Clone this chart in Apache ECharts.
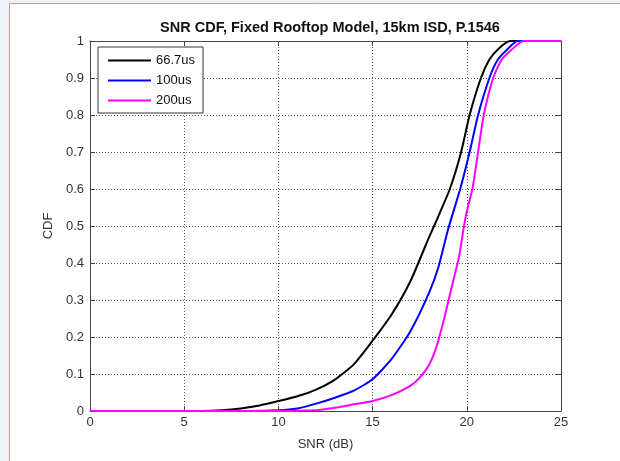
<!DOCTYPE html>
<html>
<head>
<meta charset="utf-8">
<script src="https://cdn.jsdelivr.net/npm/echarts@6/dist/echarts.min.js"></script>
<style>
html,body{margin:0;padding:0;background:#eef3fa;}
#c{width:620px;height:461px;}
</style>
</head>
<body>
<div id="c"></div>
<script>
const title = 'SNR CDF, Fixed Rooftop Model, 15km ISD, P.1546';
const xTicks = [0, 5, 10, 15, 20, 25];
const yTicks = [0, 0.1, 0.2, 0.3, 0.4, 0.5, 0.6, 0.7, 0.8, 0.9, 1];
const seriesNames = ['66.7us', '100us', '200us'];
const cdf667 = [[0,0],[6,0],[7,0.002],[8,0.007],[9,0.015],[10,0.027],[11,0.04],[12,0.058],[13,0.085],[14,0.126],[15,0.19],[16,0.26],[17,0.35],[18,0.47],[18.4,0.516],[19.1,0.6],[19.7,0.7],[20.15,0.8],[20.75,0.9],[21.2,0.95],[21.7,0.98],[22.3,1],[25,1]];
const cdf100 = [[0,0],[8.5,0],[10,0.002],[11,0.007],[12,0.02],[13,0.036],[14,0.055],[15,0.086],[16,0.14],[17,0.215],[18,0.32],[18.5,0.39],[19,0.49],[19.65,0.6],[20.15,0.7],[20.6,0.8],[21.2,0.9],[21.65,0.95],[22.2,0.98],[22.7,1],[25,1]];
const cdf200 = [[0,0],[10,0],[12,0.002],[13,0.009],[14,0.018],[15,0.027],[16,0.043],[17,0.068],[17.5,0.09],[18,0.125],[18.4,0.175],[18.8,0.25],[19.2,0.335],[19.6,0.42],[19.85,0.5],[20.05,0.55],[20.3,0.6],[20.6,0.7],[20.9,0.8],[21.4,0.9],[21.85,0.95],[22.45,0.98],[23,1],[25,1]];
const colors = ['#000000', '#0000ff', '#ff00ff'];

const font = '"Liberation Sans", Arial, Helvetica, sans-serif';
const chart = echarts.init(document.getElementById('c'), null, {renderer: 'canvas'});
const axisCommon = {
  axisLine: {show: true, onZero: false, lineStyle: {color: '#444', width: 1}},
  axisTick: {show: true, inside: true, length: 5, lineStyle: {color: '#444'}},
};
const data = [cdf667, cdf100, cdf200];
chart.setOption({
  animation: false,
  backgroundColor: 'transparent',
  graphic: [{
    type: 'rect', z: -10, silent: true,
    shape: {x: 9.5, y: 3.5, width: 640, height: 480},
    style: {fill: '#ffffff', stroke: '#d49a88', lineWidth: 1}
  }],
  title: {
    text: title, left: 325, textAlign: 'center', top: 15,
    textStyle: {fontFamily: font, fontSize: 14.5, fontWeight: 'bold', color: '#111'}
  },
  legend: {
    orient: 'vertical', left: 98, top: 47,
    data: seriesNames,
    icon: 'rect', itemWidth: 43, itemHeight: 2, itemGap: 7,
    padding: [7, 8, 6, 10],
    borderColor: '#333', borderWidth: 1, backgroundColor: '#fff', borderRadius: 0,
    textStyle: {fontFamily: font, fontSize: 13, color: '#111'}
  },
  grid: {left: 90, right: 59, top: 41, bottom: 50, containLabel: false},
  xAxis: [
    Object.assign({
      type: 'value', min: xTicks[0], max: xTicks[xTicks.length-1], interval: 5,
      name: 'SNR (dB)', nameLocation: 'middle', nameGap: 27,
      nameTextStyle: {fontFamily: font, fontSize: 13, color: '#333'},
      axisLabel: {fontFamily: font, fontSize: 13, color: '#333', margin: 5},
      splitLine: {show: true, lineStyle: {color: '#555', type: [1, 2], width: 1}}
    }, axisCommon),
    Object.assign({
      type: 'value', position: 'top', min: 0, max: 25, interval: 5,
      axisLabel: {show: false}, splitLine: {show: false}
    }, axisCommon)
  ],
  yAxis: [
    Object.assign({
      type: 'value', min: yTicks[0], max: yTicks[yTicks.length-1], interval: 0.1,
      name: 'CDF', nameLocation: 'middle', nameGap: 33,
      nameTextStyle: {fontFamily: font, fontSize: 13, color: '#333'},
      axisLabel: {fontFamily: font, fontSize: 13, color: '#333', margin: 6,
        formatter: v => String(Math.round(v * 10) / 10)},
      splitLine: {show: true, lineStyle: {color: '#555', type: [1, 2], width: 1}}
    }, axisCommon),
    Object.assign({
      type: 'value', position: 'right', min: 0, max: 1, interval: 0.1,
      axisLabel: {show: false}, splitLine: {show: false}
    }, axisCommon)
  ],
  series: seriesNames.map((n, i) => ({
    name: n, type: 'line', data: data[i],
    showSymbol: false, symbol: 'none',
    smooth: 0.2,
    color: colors[i],
    lineStyle: {color: colors[i], width: 2},
    itemStyle: {color: colors[i]},
    z: 3 + i
  }))
});
</script>
</body>
</html>
